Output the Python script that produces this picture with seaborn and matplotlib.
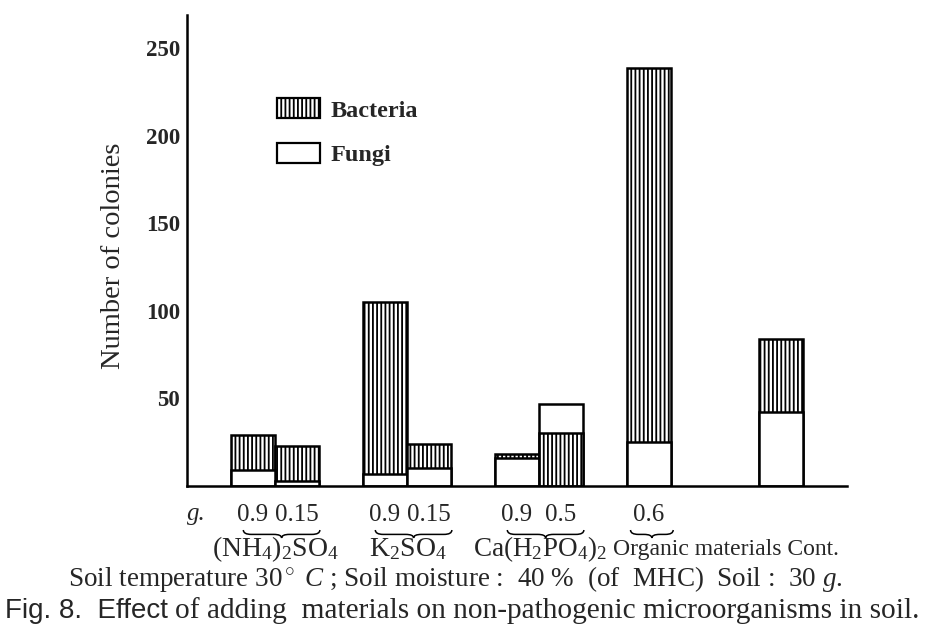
import numpy as np
import pandas as pd
import matplotlib
matplotlib.use("Agg")
import matplotlib.pyplot as plt
import matplotlib.transforms as mtransforms
from matplotlib.path import Path
from matplotlib.patches import PathPatch, Patch
import seaborn as sns

# ---------------- data ----------------
groups = ["(NH4)2SO4", "K2SO4", "Ca(H2PO4)2", "Organic materials", "Cont."]
group_tex = [r"$\mathrm{(NH_4)_2SO_4}$", r"$\mathrm{K_2SO_4}$",
             r"$\mathrm{Ca(H_2PO_4)_2}$", "Organic materials", "Cont."]
doses = [["0.9", "0.15"], ["0.9", "0.15"], ["0.9", "0.5"], ["0.6"], [""]]
bacteria = [[20, 20], [98, 14], [2, 30], [214], [42]]
fungi = [[9, 3], [7, 10], [16, 17], [25], [42]]
# which series sits at the bottom of each stacked bar
bottom_series = [["Fungi", "Fungi"], ["Fungi", "Fungi"], ["Fungi", "Bacteria"],
                 ["Fungi"], ["Fungi"]]

# ---------------- layout ----------------
group_start = [1, 4, 7, 10, 13]   # slot index of first bar in each group

rows = []
for gi, g in enumerate(groups):
    for bi, d in enumerate(doses[gi]):
        b = bacteria[gi][bi]
        f = fungi[gi][bi]
        bot = bottom_series[gi][bi]
        rows.append(dict(group=g, gi=gi, dose=d,
                         pos=group_start[gi] + bi + 0.5,
                         total=b + f,
                         bottom=f if bot == "Fungi" else b,
                         bottom_series=bot))
df = pd.DataFrame(rows)

W, H, DPI = 930, 633, 100
sns.set_theme(style="white")
plt.rcParams["font.family"] = ["Liberation Serif", "DejaVu Serif"]
plt.rcParams["mathtext.fontset"] = "custom"
plt.rcParams["mathtext.rm"] = "Liberation Serif"
plt.rcParams["mathtext.it"] = "Liberation Serif:italic"
plt.rcParams["mathtext.bf"] = "Liberation Serif:bold"
plt.rcParams["hatch.linewidth"] = 1.3
plt.rcParams["hatch.color"] = "black"

fig = plt.figure(figsize=(W / DPI, H / DPI), dpi=DPI)
fig.patch.set_facecolor("white")
ax_left, ax_right, ax_bot, ax_top = 187, 847, 486, 15
ax = fig.add_axes([ax_left / W, 1 - ax_bot / H,
                   (ax_right - ax_left) / W, (ax_bot - ax_top) / H])

HATCH = "||||"
# full-height bars, styled as the upper segment
sns.barplot(data=df, x="pos", y="total", native_scale=True, width=1.0,
            color="white", saturation=1, edgecolor="black", linewidth=1.8,
            ax=ax, errorbar=None)
n = len(df)
for p, bs in zip(ax.patches[:n], df["bottom_series"]):
    if bs == "Fungi":      # upper segment = bacteria
        p.set_hatch(HATCH)
# lower segments drawn over them
sns.barplot(data=df, x="pos", y="bottom", native_scale=True, width=1.0,
            color="white", saturation=1, edgecolor="black", linewidth=1.8,
            ax=ax, errorbar=None)
for p, bs in zip(ax.patches[n:], df["bottom_series"]):
    if bs == "Bacteria":
        p.set_hatch(HATCH)

ax.set_xlim(0, 15)
ax.set_ylim(0, 269)
ax.set_yticks([50, 100, 150, 200, 250])
ax.set_yticklabels(["50", "100", "150", "200", "250"], fontweight="bold",
                   fontsize=16.5)
ax.tick_params(axis="y", length=0, pad=5)
lbl_df = df[df["dose"] != ""]
ax.set_xticks(lbl_df["pos"].tolist())
ax.set_xticklabels(lbl_df["dose"].tolist(), fontsize=18)
ax.tick_params(axis="x", length=0, pad=13)
ax.set_xlabel("")
ax.set_ylabel("Number of colonies", fontsize=20.5)
ax.yaxis.set_label_coords(-0.092, 0.488)
for s in ["top", "right"]:
    ax.spines[s].set_visible(False)
for s in ["left", "bottom"]:
    ax.spines[s].set_color("black")
    ax.spines[s].set_linewidth(1.8)

# legend
handles = [Patch(facecolor="white", edgecolor="black", hatch=HATCH, linewidth=1.6,
                 label="Bacteria"),
           Patch(facecolor="white", edgecolor="black", linewidth=1.6, label="Fungi")]
leg = ax.legend(handles=handles, loc="upper left",
                bbox_to_anchor=(277 / W, 1 - 98 / H), bbox_transform=fig.transFigure,
                frameon=False, borderpad=0, borderaxespad=0,
                handlelength=1.77, handleheight=0.92, handletextpad=0.42,
                labelspacing=0.86, prop={"family": "Liberation Serif",
                                          "weight": "bold", "size": 17.5})

# "g." label
fig.text(187 / W, 1 - 514 / H, "g.", fontsize=18, style="italic",
         ha="left", va="center")

# braces under the dose labels
trans = mtransforms.blended_transform_factory(ax.transData, fig.transFigure)
def brace(x0, x1, ytop_px, depth_px=8):
    yt = 1 - ytop_px / H
    ym = 1 - (ytop_px + depth_px * 0.55) / H
    yb = 1 - (ytop_px + depth_px) / H
    xm = (x0 + x1) / 2
    r = 0.18
    verts = [(x0, yt), (x0, ym), (x0 + r, ym),
             (xm - r, ym),
             (xm, ym), (xm, yb),
             (xm, ym), (xm + r, ym),
             (x1 - r, ym),
             (x1, ym), (x1, yt)]
    codes = [Path.MOVETO, Path.CURVE3, Path.CURVE3,
             Path.LINETO,
             Path.CURVE3, Path.CURVE3,
             Path.CURVE3, Path.CURVE3,
             Path.LINETO,
             Path.CURVE3, Path.CURVE3]
    fig.add_artist(PathPatch(Path(verts, codes), transform=trans,
                             facecolor="none", edgecolor="black", lw=1.1))

for gi in range(4):
    sub = df[df["gi"] == gi]
    first, last = sub["pos"].min(), sub["pos"].max()
    if len(sub) > 1:
        brace(first - 0.22, last + 0.52, 530)
    else:
        brace(first - 0.42, last + 0.55, 530)

renderer = fig.canvas.get_renderer()

def right_px(t):
    bb = t.get_window_extent(renderer)
    return bb.x1

# group names (line under the braces)
GY = 1 - 549 / H
fig.text(275 / W, GY, group_tex[0], fontsize=20, ha="center", va="center")
fig.text(408 / W, GY, group_tex[1], fontsize=20, ha="center", va="center")
t_ca = fig.text(473 / W, GY, group_tex[2], fontsize=19.5, ha="left", va="center")
x_next = right_px(t_ca) + 6
fig.text(x_next / W, GY, group_tex[3] + " " + group_tex[4], fontsize=17,
         ha="left", va="center")

fig.text(455 / W, 1 - 579 / H,
         r"Soil temperature 30$^\circ$ $\it{C}$ ; Soil moisture :  40 %  (of  MHC)  Soil :  30 $\it{g}$.",
         fontsize=19.5, ha="center", va="center")
t_fig = fig.text(5 / W, 1 - 611 / H, "Fig. 8.  Effect", fontsize=20, ha="left",
                 va="center", family=["Liberation Sans", "DejaVu Sans"])
x_cap = right_px(t_fig) + 7
fig.text(x_cap / W, 1 - 611 / H,
         "of adding  materials on non-pathogenic microorganisms in soil.",
         fontsize=21.2, ha="left", va="center")

fig.savefig("out.png", dpi=DPI, facecolor="white")
